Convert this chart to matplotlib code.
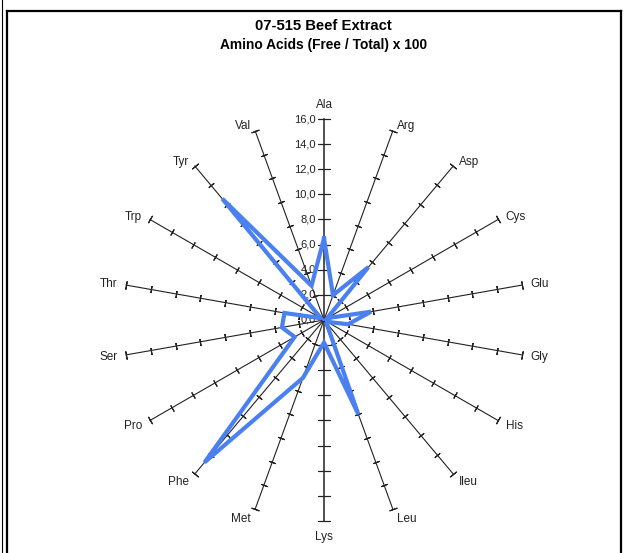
import matplotlib
matplotlib.use("Agg")
import matplotlib.pyplot as plt
import numpy as np

plt.rcParams['font.family'] = ['Liberation Sans', 'DejaVu Sans']

# amino acids, clockwise from the top
acids = ['Ala', 'Arg', 'Asp', 'Cys', 'Glu', 'Gly', 'His', 'Ileu', 'Leu',
         'Lys', 'Met', 'Phe', 'Pro', 'Ser', 'Thr', 'Trp', 'Tyr', 'Val']
ratio = [6.5, 2.1, 5.5, 0.3, 3.8, 1.95, 0.3, 0.3, 8.0,
         1.8, 4.9, 14.8, 2.7, 3.4, 3.2, 0.3, 12.6, 2.9]
rticks = [0, 2, 4, 6, 8, 10, 12, 14, 16]
rlabels = ['0,0', '2,0', '4,0', '6,0', '8,0', '10,0', '12,0', '14,0', '16,0']
rmax = 16

fig = plt.figure(figsize=(6.25, 5.53), dpi=100)

# frame around the chart
fig.add_artist(plt.Line2D([2/625, 2/625], [0, 1], color='black', lw=0.8))
fig.add_artist(plt.Line2D([7/625, 7/625], [0, 1 - 11/553], color='black', lw=1.6))
fig.add_artist(plt.Line2D([7/625, 621/625], [1 - 11/553, 1 - 11/553], color='black', lw=1.6))
fig.add_artist(plt.Line2D([621/625, 621/625], [0, 1 - 11/553], color='black', lw=1.6))

fig.text(0.518, 1 - 26/553, '07-515 Beef Extract', ha='center', va='center',
         fontsize=10.7, fontweight='bold')
fig.text(0.518, 1 - 45/553, 'Amino Acids (Free / Total) x 100', ha='center', va='center',
         fontsize=9.9, fontweight='bold')

ax = fig.add_axes([0.1968, 0.0579, 0.6432, 0.7269], projection='polar')
ax.set_theta_zero_location('N')
ax.set_theta_direction(-1)
ax.set_ylim(0, rmax)
ax.set_axis_off()

n = len(acids)
angles = np.arange(n) * 2 * np.pi / n
deg = np.degrees(angles)

for i in range(n):
    a = angles[i]
    main = acids[i] in ('Ala', 'Lys')
    ax.plot([a, a], [0, rmax], color='#222222', lw=1.1 if main else 0.8,
            clip_on=False, zorder=1)
    rot = 90 - deg[i]
    ax.plot([a] * (len(rticks) - 2), rticks[1:-1], ls='none',
            marker=(2, 2, rot), ms=8 if main else 5, mew=0.8,
            color='#222222', clip_on=False, zorder=1)
    ax.plot([a], [rmax], ls='none', marker=(2, 2, rot), ms=8 if main else 6,
            mew=0.8, color='#222222', clip_on=False, zorder=1)

    # label placement next to the end of each spoke (offsets in pixels)
    s, c = np.sin(a), np.cos(a)
    if abs(s) < 0.01:
        dx, dy, ha = 0, (14 if c > 0 else -16), 'center'
    else:
        dx = np.sign(s) * (2 + 6.5 * abs(s))
        dy = 5 * c if c > 0 else 11 * c
        ha = 'left' if s > 0 else 'right'
    ax.annotate(acids[i], xy=(a, rmax), xytext=(dx * 0.72, dy * 0.72),
                textcoords='offset points', ha=ha, va='center',
                fontsize=8.5, color='#222222')

for r, lab in zip(rticks, rlabels):
    ax.annotate(lab, xy=(0, r), xytext=(-6, 0), textcoords='offset points',
                ha='right', va='center', fontsize=8, color='#222222')

vals = ratio + ratio[:1]
ang = list(angles) + [angles[0]]
ax.plot(ang, vals, color='#4A80F0', lw=3, solid_joinstyle='miter', zorder=3,
        clip_on=False)

fig.savefig('out.png', dpi=100)
